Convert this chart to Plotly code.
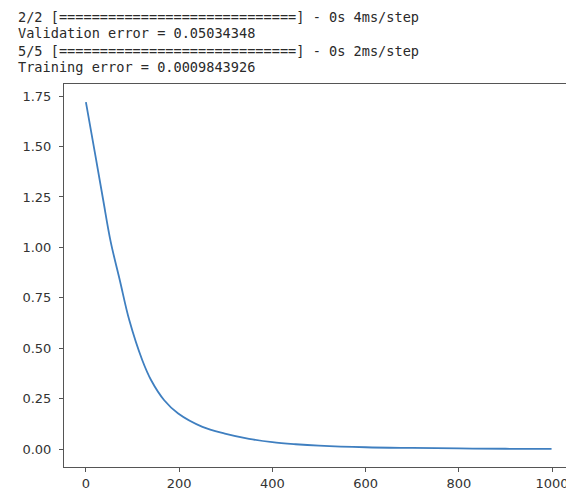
import plotly.graph_objects as go

# ---- data ----
epochs = [0, 20, 37, 53, 73, 93, 121, 140, 168, 198, 250, 298, 350, 400, 450, 500,
          600, 700, 800, 900, 999]
loss = [1.72, 1.46, 1.236, 1.03, 0.835, 0.640, 0.441, 0.342, 0.243, 0.177, 0.111, 0.078,
        0.052, 0.035, 0.025, 0.018, 0.010, 0.0065, 0.0042, 0.0025, 0.0015]

log_lines = [
    "2/2 [" + "=" * 29 + "] - 0s 4ms/step",
    "Validation error = 0.05034348",
    "5/5 [" + "=" * 29 + "] - 0s 2ms/step",
    "Training error = 0.0009843926",
]
x_ticks = [0, 200, 400, 600, 800, 1000]
y_ticks = [0.0, 0.25, 0.5, 0.75, 1.0, 1.25, 1.5, 1.75]

# page body has an 8px default margin; compensate so the picture lines up
OFF = 8
W, H = 574 - OFF, 491 - OFF
L, R, T, B = 64 - OFF, 1, 84 - OFF, 24

fig = go.Figure()
fig.add_trace(go.Scatter(x=epochs, y=loss, mode="lines",
                         line=dict(color="#3f7fc0", width=1.8, shape="spline", smoothing=1.0),
                         hoverinfo="skip", showlegend=False))

plot_w = W - L - R
plot_h = H - T - B
line_y = [16.5, 33.5, 50.5, 67.0]
annotations = []
for txt, py in zip(log_lines, line_y):
    annotations.append(dict(
        text=txt, xref="paper", yref="paper",
        x=(16 - OFF - L) / plot_w, y=(H - B - (py - OFF)) / plot_h,
        xanchor="left", yanchor="middle", showarrow=False,
        font=dict(family="DejaVu Sans Mono", size=13.6, color="#2a2a2a"),
    ))

axis_common = dict(showline=True, linecolor="#555555", linewidth=1, mirror=True,
                   ticks="outside", ticklen=4, tickwidth=1, tickcolor="#555555",
                   showgrid=False, zeroline=False,
                   tickfont=dict(family="DejaVu Sans", size=13, color="#333333"))

fig.update_layout(
    width=W, height=H,
    margin=dict(l=L, r=R, t=T, b=B, autoexpand=False),
    paper_bgcolor="white", plot_bgcolor="white",
    xaxis=dict(range=[-47, 1045], tickvals=x_ticks, ticktext=[str(v) for v in x_ticks],
               ticklabelstandoff=0, **axis_common),
    yaxis=dict(range=[-0.0878, 1.8095], tickvals=y_ticks,
               ticktext=[f"{v:.2f}" for v in y_ticks], ticklabelstandoff=5, **axis_common),
    annotations=annotations,
)
fig.write_html("out.html")
